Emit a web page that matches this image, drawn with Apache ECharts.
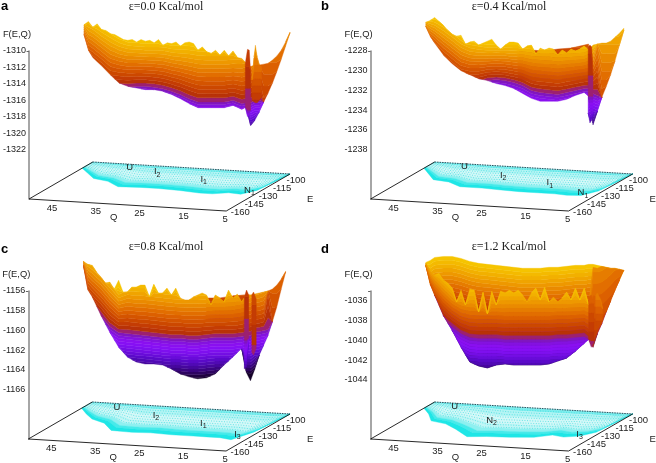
<!DOCTYPE html>
<html>
<head>
<meta charset="utf-8">
<style>
  html, body { margin: 0; padding: 0; background: #fff; }
  #chart { width: 656px; height: 463px; }
</style>
</head>
<body>
<div id="chart"></div>
<script src="https://cdn.jsdelivr.net/npm/echarts@6/dist/echarts.min.js"></script>
<script>
// tick labels
const qTicks = [45, 35, 25, 15, 5]
const eTicks = [-100, -115, -130, -145, -160]
const fTicksA = [-1310, -1312, -1314, -1316, -1318, -1320, -1322]
const fTicksB = [-1228, -1230, -1232, -1234, -1236, -1238]
const fTicksC = [-1156, -1158, -1160, -1162, -1164, -1166]
const fTicksD = [-1036, -1038, -1040, -1042, -1044]

// Q positions of the readings
const qRim = [52, 51, 50, 49, 48, 47, 46, 45, 44, 43, 42, 41, 40, 39, 38, 37, 36, 35, 34, 33, 32, 31, 30, 29, 28, 27, 26, 25, 24, 23, 22, 21, 20, 19, 18, 17, 16, 15, 14, 13, 12, 11, 10, 9, 8, 7, 6, 5]
const qLow = [52, 51, 50, 48, 46, 44, 42, 40, 38, 36, 34, 32, 30, 28, 26, 24, 22, 20, 18, 16, 15, 14, 13, 12, 11, 10, 9, 8, 7, 6, 5]
const qFloor = [50, 47, 44, 40, 36, 31, 27, 22, 17, 14, 11, 8, 6, 5]

// panel a, eps = 0.0
const rimA = [-1306.8, -1306.4, -1307.1, -1306.7, -1307.4, -1307.5, -1307.9, -1308.0, -1308.3, -1308.6, -1308.7, -1308.6, -1308.9, -1308.6, -1308.8, -1308.7, -1309.0, -1308.6, -1309.3, -1309.0, -1309.1, -1308.9, -1309.4, -1309.0, -1308.9, -1309.1, -1309.9, -1309.5, -1310.1, -1310.3, -1309.9, -1310.5, -1309.9, -1310.6, -1310.0, -1310.8, -1310.9, -1311.5, -1311.9, -1311.7, -1311.7, -1311.6, -1311.5, -1311.1, -1310.6, -1309.9, -1308.9, -1307.7]
const lowA = [-1308.0, -1309.9, -1310.8, -1311.8, -1312.9, -1313.9, -1314.3, -1314.5, -1314.7, -1314.7, -1314.9, -1315.3, -1315.8, -1316.4, -1316.9, -1316.9, -1316.9, -1316.9, -1316.6, -1317.1, -1316.8, -1319.1, -1318.4, -1317.4, -1316.2, -1315.1, -1313.9, -1312.5, -1311.0, -1309.4, -1307.8]
const midA = [-1309.5, -1311.9, -1312.4, -1313.3, -1314.4, -1314.4, -1314.4, -1314.3, -1314.3, -1314.4, -1314.6, -1314.9, -1315.3, -1315.8, -1316.2, -1316.2, -1316.2, -1316.2, -1316.0, -1316.4, -1316.3, -1316.3, -1316.0, -1316.0, -1320.1, -1320.1, -1320.1, -1320.1, -1320.1, -1320.1, -1320.1]
const ceilA = [-1305.8, -1305.8, -1306.0, -1306.8, -1307.4, -1308.1, -1308.5, -1308.6, -1308.7, -1308.7, -1308.7, -1308.9, -1308.9, -1308.9, -1309.0, -1309.1, -1309.1, -1309.1, -1309.1, -1308.9, -1308.7, -1308.3, -1305.8, -1303.8, -1299.7, -1299.7, -1299.7, -1299.7, -1299.7, -1299.7, -1299.7]
const spikeQA = [15.2, 14.7, 14.3, 14.0]
const spikeHiA = [-1311.5, -1309.8, -1309.9, -1312.5]
const spikeLoA = [-1316.8, -1318.0, -1317.8, -1317.2]
const ridgeQA = [13.67, 13.2, 12.9, 12.5, 12, 11.5]
const ridgeHiA = [-1313.5, -1310.7, -1309.3, -1310.7, -1311.7, -1311.9]
const ridgeLoA = [-1316.0, -1316.2, -1316.3, -1316.3, -1316.0, -1315.6]
const floorEdgeA = [-110, -117, -124, -127, -134, -133, -133, -134, -136, -136, -133, -134, -127, -100]

// panel b, eps = 0.4
const rimB = [-1225.1, -1224.9, -1224.6, -1225.0, -1225.4, -1225.9, -1226.3, -1226.5, -1226.4, -1227.3, -1227.1, -1227.0, -1227.4, -1227.2, -1227.0, -1226.8, -1227.4, -1227.8, -1227.4, -1227.1, -1227.1, -1227.2, -1227.8, -1227.5, -1227.4, -1228.3, -1227.7, -1227.9, -1227.7, -1227.8, -1228.4, -1227.9, -1228.2, -1227.8, -1228.0, -1227.8, -1227.5, -1227.9, -1227.4, -1227.3, -1227.2, -1227.2, -1227.0, -1226.6, -1226.2, -1225.7]
const lowB = [-1225.5, -1226.5, -1227.2, -1228.4, -1229.3, -1230.0, -1230.4, -1230.8, -1231.0, -1231.3, -1231.5, -1231.8, -1232.3, -1232.8, -1233.1, -1233.1, -1233.1, -1232.9, -1232.5, -1232.2, -1232.6, -1235.5, -1234.1, -1232.7, -1231.6, -1230.4, -1229.0, -1227.4, -1225.9]
const midB = [-1226.9, -1227.9, -1228.6, -1229.8, -1230.6, -1231.3, -1231.4, -1231.3, -1231.0, -1230.9, -1231.0, -1231.2, -1231.5, -1232.0, -1232.2, -1232.3, -1232.4, -1232.2, -1232.0, -1231.8, -1231.8, -1232.3, -1232.5, -1236.3, -1236.3, -1236.3, -1236.3, -1236.3, -1236.3]
const ceilB = [-1224.5, -1224.5, -1224.5, -1224.9, -1225.5, -1226.2, -1226.7, -1226.9, -1227.1, -1227.1, -1227.1, -1227.1, -1227.1, -1227.1, -1227.1, -1227.1, -1227.2, -1227.2, -1227.2, -1227.2, -1226.9, -1226.5, -1223.8, -1223.8, -1223.8, -1223.8, -1223.8, -1223.8, -1223.8]
const wallQB = [31, 28, 25, 22, 19, 17, 15]
const wallHiB = [-1227.8, -1227.9, -1228.0, -1227.8, -1227.7, -1227.5, -1227.3]
const spikeQB = [15.1, 14.7, 14.3, 14.0]
const spikeHiB = [-1227.6, -1227.4, -1227.6, -1230.3]
const spikeLoB = [-1234.3, -1235.3, -1235.0, -1234.3]
const floorEdgeB = [-110, -118, -126, -128, -134, -134, -135, -136, -136, -136, -137, -136, -128, -100]

// panel c, eps = 0.8
const rimC = [-1153.0, -1153.3, -1153.4, -1154.1, -1154.6, -1155.2, -1155.1, -1155.8, -1154.9, -1156.1, -1156.1, -1155.6, -1155.6, -1155.4, -1155.4, -1156.6, -1155.3, -1156.2, -1156.2, -1155.7, -1156.4, -1155.7, -1156.7, -1156.9, -1156.9, -1156.6, -1156.4, -1156.2, -1156.4, -1157.4, -1156.4, -1156.7, -1157.1, -1155.9, -1156.7, -1156.3, -1157.1, -1156.4, -1156.4, -1156.3, -1156.2, -1156.1, -1156.0, -1155.8, -1155.4, -1154.8, -1154.0]
const lowC = [-1153.4, -1155.9, -1156.6, -1158.5, -1160.2, -1161.7, -1162.7, -1163.2, -1163.4, -1163.4, -1163.5, -1163.9, -1164.4, -1164.7, -1164.9, -1164.8, -1164.4, -1163.5, -1162.7, -1161.8, -1164.2, -1165.1, -1163.9, -1162.5, -1161.5, -1160.5, -1159.1, -1157.6, -1155.8, -1154.1]
const midC = [-1154.4, -1156.8, -1157.5, -1158.5, -1159.6, -1160.2, -1160.3, -1160.4, -1160.5, -1160.6, -1160.7, -1160.8, -1160.8, -1160.9, -1160.9, -1160.8, -1160.7, -1160.7, -1160.7, -1160.6, -1160.5, -1160.5, -1160.1, -1160.1, -1160.0, -1159.9, -1163.5, -1163.5, -1163.5, -1163.5]
const ceilC = [-1152.0, -1152.2, -1152.4, -1153.1, -1154.1, -1155.3, -1154.8, -1154.9, -1154.9, -1155.0, -1155.1, -1155.2, -1155.3, -1155.3, -1155.3, -1155.3, -1155.3, -1155.3, -1155.2, -1155.0, -1154.8, -1154.6, -1154.4, -1154.2, -1154.0, -1143.2, -1143.2, -1143.2, -1143.2, -1143.2]
const wallQC = [24, 21, 18, 15.3]
const wallHiC = [-1156.7, -1156.7, -1156.5, -1156.4]
const spikeQC = [15.4, 14.9, 14.4]
const spikeHiC = [-1156.6, -1155.9, -1156.4]
const spikeLoC = [-1163.9, -1163.7, -1160.8]
const ridgeQC = [13.7, 13.3, 12.7]
const ridgeHiC = [-1156.4, -1156.1, -1156.8]
const ridgeLoC = [-1162.2, -1162.5, -1161.8]
const floorEdgeC = [-110, -118, -125, -130, -140, -141, -140, -141, -141, -141, -141, -143, -130, -100]

// panel d, eps = 1.2
const rimD = [-1032.2, -1033.0, -1033.4, -1033.2, -1033.9, -1034.2, -1034.7, -1036.1, -1034.9, -1036.4, -1034.8, -1034.9, -1037.1, -1035.1, -1037.3, -1035.0, -1036.4, -1035.0, -1035.2, -1034.9, -1035.2, -1034.9, -1035.4, -1036.1, -1035.2, -1034.7, -1035.9, -1034.6, -1036.1, -1035.6, -1036.1, -1035.7, -1035.1, -1035.9, -1034.7, -1035.9, -1034.7, -1036.4, -1032.6, -1032.7, -1032.5, -1032.6, -1032.7, -1032.7, -1032.8, -1032.9]
const wallHiD = [-1032.1, -1031.9, -1031.6, -1031.5, -1031.5, -1031.7, -1032.0, -1032.2, -1032.3, -1032.4, -1032.5, -1032.6, -1032.7, -1032.7, -1032.7, -1032.6, -1032.6, -1032.5, -1032.4, -1032.4, -1032.3, -1032.3, -1032.4, -1032.5, -1032.6, -1032.7, -1032.7, -1032.8, -1032.9]
const lowD = [-1032.4, -1034.3, -1035.4, -1037.5, -1039.0, -1040.7, -1042.2, -1042.6, -1042.8, -1042.5, -1042.4, -1042.5, -1042.5, -1042.5, -1042.5, -1042.4, -1042.1, -1041.8, -1041.1, -1040.3, -1039.9, -1040.7, -1039.3, -1038.3, -1037.1, -1036.0, -1034.9, -1033.9, -1032.9]
const midD = [-1033.4, -1035.3, -1036.5, -1037.9, -1038.6, -1039.3, -1039.7, -1039.8, -1039.8, -1039.8, -1039.9, -1039.9, -1039.9, -1039.9, -1039.9, -1039.9, -1039.8, -1039.8, -1039.7, -1039.6, -1040.0, -1042.5, -1042.5, -1042.2, -1041.5, -1040.7, -1039.8, -1039.2, -1038.5]
const ceilD = [-1031.7, -1032.1, -1032.4, -1033.1, -1034.1, -1034.4, -1034.4, -1034.4, -1034.4, -1034.4, -1034.4, -1034.4, -1034.4, -1034.4, -1034.4, -1034.4, -1034.4, -1034.4, -1034.4, -1034.4, -1034.4, -1026, -1026, -1026, -1026, -1026, -1026, -1026, -1026]
const spikeQD = [15, 14.4, 13.8]
const spikeHiD = [-1035.6, -1035.4, -1036.1]
const spikeLoD = [-1039.9, -1040.7, -1040.2]
const ridgeQD = [13.4, 13, 12.3, 11.8]
const ridgeHiD = [-1035.4, -1035.2, -1035.8, -1036.8]
const ridgeLoD = [-1038.5, -1038.7, -1038.5, -1038.0]
const floorEdgeD = [-110, -118, -128, -131, -138, -148, -146, -145, -143, -138, -140, -137, -130, -100]

// colour ramps of the surface, from the red/purple line upwards and downwards
const warmRamp = ['#9c2070', '#b83208', '#c43c04', '#cc4800', '#d45400', '#dc6000', '#e26e00', '#e67c00', '#ea8a00', '#ee9800', '#f0a400', '#f2b000', '#f4ba00', '#f6c400']
const coldRamp = ['#8016c0', '#8412e0', '#8a10f0', '#8610f4', '#7e10ee', '#740ee4', '#680cd8', '#5a0ac8', '#500ab4', '#46089c', '#3a0680', '#2e0460', '#200340', '#140228']
const coldStep = 0.3
const floorRamp = ['#7eeeee', '#b4f4f4', '#d4f8f8', '#c0f6f6', '#8ef0f0', '#48eaea', '#1fe6e6']
const floorStops = [0, 0.12, 0.32, 0.55, 0.7, 0.8, 0.88, 1]

const panels = [
  {
    letter: 'a', title: 'ε=0.0 Kcal/mol', left: 28, top: 51, fMin: -1328, fMax: -1310, ticks: fTicksA, floorEdge: floorEdgeA,
    sheets: [
      { q: qRim, hi: rimA, qc: qLow, lo: lowA, mid: midA, ceil: ceilA },
      { q: spikeQA, hi: spikeHiA, qc: spikeQA, lo: spikeLoA, mid: -1317.2, ceil: -1280 },
      { q: ridgeQA, hi: ridgeHiA, qc: ridgeQA, lo: ridgeLoA, mid: -1317.6, ceil: -1305.8 }
    ],
    marks: [['U', '', 40.6, -104], ['I', '2', 33.7, -108.5], ['I', '1', 21.3, -115.8], ['N', '1', 8, -127.7]]
  },
  {
    letter: 'b', title: 'ε=0.4 Kcal/mol', left: 370.6, top: 51, fMin: -1243, fMax: -1228, ticks: fTicksB, floorEdge: floorEdgeB,
    sheets: [
      { q: wallQB, hi: wallHiB, qc: wallQB, lo: -1231, mid: -1230.9, ceil: -1219.5 },
      { q: qRim.slice(0, 46), hi: rimB, qc: qLow.slice(0, 29), lo: lowB, mid: midB, ceil: ceilB },
      { q: spikeQB, hi: spikeHiB, qc: spikeQB, lo: spikeLoB, mid: -1232.6, ceil: -1202.6 }
    ],
    marks: [['U', '', 42.3, -103.8], ['I', '2', 31.7, -113], ['I', '1', 19.3, -120.4], ['N', '1', 9, -131.9]]
  },
  {
    letter: 'c', title: 'ε=0.8 Kcal/mol', left: 28, top: 291, fMin: -1171, fMax: -1156, ticks: fTicksC, floorEdge: floorEdgeC,
    sheets: [
      { q: wallQC, hi: wallHiC, qc: wallQC, lo: -1159, mid: -1159, ceil: -1150 },
      { q: qRim.slice(0, 47), hi: rimC, qc: qLow.slice(0, 30), lo: lowC, mid: midC, ceil: ceilC },
      { q: spikeQC, hi: spikeHiC, qc: spikeQC, lo: spikeLoC, mid: -1161, ceil: -1130 },
      { q: ridgeQC, hi: ridgeHiC, qc: ridgeQC, lo: ridgeLoC, mid: -1163.5, ceil: -1135 }
    ],
    marks: [['U', '', 43, -105.8], ['I', '2', 32.7, -113.4], ['I', '1', 19.9, -121.7], ['I', '3', 8.9, -135]]
  },
  {
    letter: 'd', title: 'ε=1.2 Kcal/mol', left: 370.6, top: 291, fMin: -1050, fMax: -1035, ticks: fTicksD, floorEdge: floorEdgeD,
    sheets: [
      { q: qLow.slice(0, 29), hi: wallHiD, qc: qLow.slice(0, 29), lo: lowD, mid: wallHiD.map(f => f - 5.5), ceil: wallHiD },
      { q: qRim.slice(0, 46), hi: rimD, qc: qLow.slice(0, 29), lo: lowD, mid: midD, ceil: ceilD },
      { q: spikeQD, hi: spikeHiD, qc: spikeQD, lo: spikeLoD, mid: -1041, ceil: -1027.7 },
      { q: ridgeQD, hi: ridgeHiD, qc: ridgeQD, lo: ridgeLoD, mid: -1040.8, ceil: -1031 }
    ],
    marks: [['U', '', 44.2, -105.2], ['N', '2', 32.2, -121.9], ['I', '3', 9, -135]]
  }
]

const SANS = '"Liberation Sans", Arial, sans-serif'
const SERIF = '"Liberation Serif", "Times New Roman", serif'
const LABEL_SIZE = 9.5
const BACK_SHIFT = 14.55 // the back plane sits this many Q units to the right of the front one

// reading between two samples of a list, q runs downwards
function at(qs, vals, q) {
  if (typeof vals === 'number') return vals
  if (q >= qs[0]) return vals[0]
  for (let i = 1; i < qs.length; i++) {
    if (q >= qs[i]) {
      const k = (qs[i - 1] - q) / (qs[i - 1] - qs[i])
      return vals[i - 1] + (vals[i] - vals[i - 1]) * k
    }
  }
  return vals[vals.length - 1]
}

// colour level j of a sheet at q, j runs from -coldRamp.length to warmRamp.length
function level(s, j, q) {
  if (j <= -coldRamp.length) return -Infinity
  if (j >= warmRamp.length) return Infinity
  const mid = at(s.qc, s.mid, q)
  if (j <= 0) return mid + coldStep * j
  return mid + (at(s.qc, s.ceil, q) - mid) * j / warmRamp.length
}

function sheetSeries(p, gridIndex) {
  const bands = []
  p.sheets.forEach(s => {
    const first = s.q[0]
    const last = s.q[s.q.length - 1]
    const merged = s.q.concat(s.qc.filter(q => q <= first && q >= last))
    s.all = Array.from(new Set(merged)).sort((m, n) => n - m)
    for (let j = -coldRamp.length; j < warmRamp.length; j++) bands.push({ s, j })
  })
  return {
    type: 'custom',
    coordinateSystem: 'cartesian2d',
    xAxisIndex: gridIndex,
    yAxisIndex: gridIndex,
    silent: true,
    clip: false,
    data: bands.map((b, i) => i),
    renderItem(params, api) {
      const b = bands[params.dataIndex]
      const s = b.s
      const fill = b.j < 0 ? coldRamp[-b.j - 1] : warmRamp[b.j]
      const upper = []
      const lower = []
      s.all.forEach(q => {
        const hi = at(s.q, s.hi, q)
        const lo = at(s.qc, s.lo, q)
        const a = Math.min(hi, Math.max(lo, level(s, b.j + 1, q)))
        const c = Math.min(hi, Math.max(lo, level(s, b.j, q)))
        upper.push(a)
        lower.push(c)
      })
      const children = []
      let run = []
      const flush = () => {
        if (run.length) {
          const from = Math.max(run[0] - 1, 0)
          const to = Math.min(run[run.length - 1] + 1, s.all.length - 1)
          const pts = []
          for (let i = from; i <= to; i++) pts.push(api.coord([s.all[i] - BACK_SHIFT, upper[i]]))
          for (let i = to; i >= from; i--) pts.push(api.coord([s.all[i] - BACK_SHIFT, lower[i]]))
          children.push({ type: 'polygon', shape: { points: pts }, style: { fill, stroke: fill, lineWidth: 0.4 } })
        }
        run = []
      }
      upper.forEach((u, i) => {
        if (u - lower[i] > 1e-6) run.push(i)
        else flush()
      })
      flush()
      return { type: 'group', children }
    }
  }
}

// floor plane: Q along the front edge, E going backwards
function floorCoord(p, api, q, e) {
  const u = (e + 160) / 60
  const off = 12 * (50 - q) / 45 - 37 * u
  const perPx = (p.fMax - p.fMin) / 148
  return api.coord([q - u * BACK_SHIFT, p.fMin - off * perPx])
}

function floorSeries(p, gridIndex) {
  const items = []
  floorRamp.forEach((c, i) => items.push({ kind: 'band', c, i }))
  for (let f = 0.08; f < 0.7; f += 0.085) items.push({ kind: 'dots', f })
  items.push({ kind: 'back' })
  items.push({ kind: 'edge', pts: [[50, -160], [5, -160], [5, -100]] })
  items.push({ kind: 'edge', pts: [[50, -160], [50, -100]] })
  return {
    type: 'custom',
    coordinateSystem: 'cartesian2d',
    xAxisIndex: gridIndex,
    yAxisIndex: gridIndex,
    silent: true,
    clip: false,
    data: items.map((b, i) => i),
    renderItem(params, api) {
      const it = items[params.dataIndex]
      const edgeAt = (q, f) => -100 + (at(qFloor, p.floorEdge, q) + 100) * f
      if (it.kind === 'band') {
        const pts = []
        qFloor.forEach(q => pts.push(floorCoord(p, api, q, edgeAt(q, floorStops[it.i]))))
        qFloor.slice().reverse().forEach(q => pts.push(floorCoord(p, api, q, edgeAt(q, floorStops[it.i + 1]))))
        return { type: 'polygon', shape: { points: pts }, style: { fill: it.c, stroke: it.c, lineWidth: 0.4 } }
      }
      if (it.kind === 'dots') {
        const pts = qFloor.map(q => floorCoord(p, api, q, edgeAt(q, it.f)))
        return { type: 'polyline', shape: { points: pts }, style: { fill: null, stroke: '#35dcdc', lineWidth: 0.7, lineDash: [1, 1.6] } }
      }
      if (it.kind === 'back') {
        const pts = [floorCoord(p, api, 50, -100), floorCoord(p, api, 5, -100)]
        return { type: 'polyline', shape: { points: pts }, style: { fill: null, stroke: '#123', lineWidth: 0.8, lineDash: [1.5, 1] } }
      }
      const pts = it.pts.map(d => floorCoord(p, api, d[0], d[1]))
      return { type: 'polyline', shape: { points: pts }, style: { fill: null, stroke: '#111', lineWidth: 0.9 } }
    }
  }
}

function textSeries(p, gridIndex) {
  const items = []
  qTicks.forEach(q => items.push({ text: String(q), q, e: -160, dx: q === 5 ? -1 : 1, dy: 8 }))
  eTicks.forEach(e => {
    const u = (e + 160) / 60
    items.push({ text: String(e), q: 5, e, dx: 14 - 8 * u, dy: 1 + 5 * u })
  })
  items.push({ text: 'Q', q: 30.7, e: -160, dx: 0, dy: 13 })
  items.push({ text: 'E', q: 5, e: -130, dx: 52, dy: 6.5 })
  p.marks.forEach(m => items.push({ text: m[0], sub: m[1], q: m[2], e: m[3], dx: 0, dy: 0 }))
  return {
    type: 'custom',
    coordinateSystem: 'cartesian2d',
    xAxisIndex: gridIndex,
    yAxisIndex: gridIndex,
    silent: true,
    clip: false,
    data: items.map((b, i) => i),
    renderItem(params, api) {
      const it = items[params.dataIndex]
      const pt = floorCoord(p, api, it.q, it.e)
      const x = pt[0] + it.dx
      const y = pt[1] + it.dy
      const font = { fontFamily: SANS, fontSize: LABEL_SIZE, fill: '#222', align: 'center', verticalAlign: 'middle' }
      const children = [{ type: 'text', x, y, style: Object.assign({ text: it.text }, font) }]
      if (it.sub) {
        const w = it.text === 'N' ? 5.4 : 3.2
        children.push({ type: 'text', x: x + w, y: y + 3, style: Object.assign({}, font, { text: it.sub, fontSize: 7 }) })
      }
      return { type: 'group', children }
    }
  }
}

const titles = []
const grids = []
const xAxes = []
const yAxes = []
const series = []

panels.forEach((p, i) => {
  const letterTop = i < 2 ? 0 : 243
  const titleTop = i < 2 ? 1 : 241
  titles.push({
    text: p.letter, left: i % 2 ? 321 : 1, top: letterTop, padding: 0,
    textStyle: { fontFamily: SANS, fontSize: 13, fontWeight: 'bold', color: '#000' }
  })
  titles.push({
    text: p.title, left: i % 2 ? 509 : 166, top: titleTop, padding: 0, textAlign: 'center',
    textStyle: { fontFamily: SERIF, fontSize: 12, fontWeight: 'normal', color: '#222' }
  })
  grids.push({ left: p.left, top: p.top, width: 264, height: 148 })
  xAxes.push({ type: 'value', gridIndex: i, min: -10, max: 50, inverse: true, show: false })
  yAxes.push({
    type: 'value',
    gridIndex: i,
    min: p.fMin,
    max: p.fMax,
    position: 'left',
    name: 'F(E,Q)',
    nameLocation: 'end',
    nameGap: 12,
    nameTextStyle: { fontFamily: SANS, fontSize: 9.4, color: '#222', align: 'right', padding: [0, -2, 0, 0] },
    axisLine: { show: true, onZero: false, lineStyle: { color: '#888', width: 1.5 } },
    axisTick: { show: true, length: 2.5, customValues: [p.fMax], lineStyle: { color: '#666', width: 1 } },
    axisLabel: { customValues: p.ticks, formatter: v => String(v), fontFamily: SANS, fontSize: 9, color: '#222', margin: 3 },
    splitLine: { show: false }
  })
  series.push(floorSeries(p, i))
  series.push(sheetSeries(p, i))
  series.push(textSeries(p, i))
})

const chart = echarts.init(document.getElementById('chart'))
chart.setOption({
  animation: false,
  backgroundColor: '#fff',
  title: titles,
  grid: grids,
  xAxis: xAxes,
  yAxis: yAxes,
  series: series
})
</script>
</body>
</html>
